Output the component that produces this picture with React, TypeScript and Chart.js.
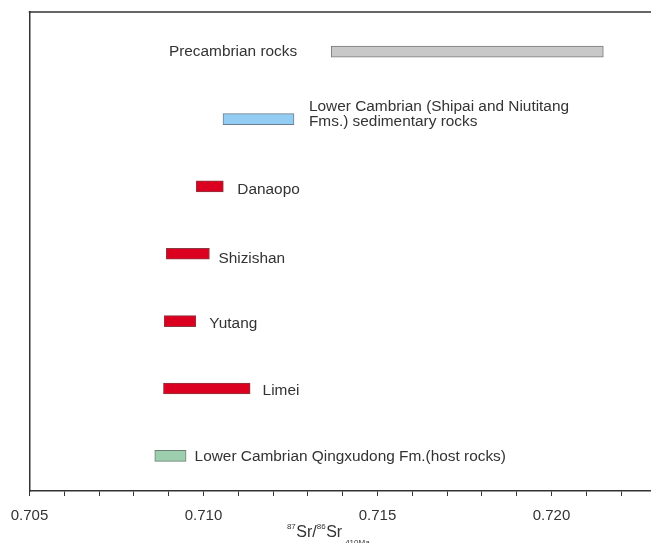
import React, { useEffect, useRef } from 'react';
import { Chart, registerables } from 'chart.js';

Chart.register(...registerables);

// ---------- data ----------
const UNITS = [
  'Precambrian rocks',
  'Lower Cambrian (Shipai and Niutitang\nFms.) sedimentary rocks',
  'Danaopo',
  'Shizishan',
  'Yutang',
  'Limei',
  'Lower Cambrian Qingxudong Fm.(host rocks)',
];
const SR_MIN = [0.71367, 0.71056, 0.70979, 0.70893, 0.70887, 0.70885, 0.7086];
const SR_MAX = [0.72149, 0.7126, 0.71057, 0.71017, 0.70978, 0.71134, 0.7095];
const X_TICKS = [
  0.705, 0.706, 0.707, 0.708, 0.709, 0.71, 0.711, 0.712, 0.713, 0.714, 0.715,
  0.716, 0.717, 0.718, 0.719, 0.72, 0.721, 0.722,
];
const X_TICK_LABELS = ['0.705', '0.710', '0.715', '0.720'];
const X_MIN = 0.705;
const X_MAX = 0.72286;

// ---------- styles ----------
const FONT = '"Liberation Sans", Arial, Helvetica, sans-serif';
const TEXT_COLOR = '#333333';
const AXIS_COLOR = '#333333';
const FILL = ['#c8c8c8', '#94cdf4', '#dc0020', '#dc0020', '#dc0020', '#dc0020', '#9dcfae'];
const BORDER = ['#7a7a7a', '#6a7f8f', '#8a3a40', '#8a3a40', '#8a3a40', '#8a3a40', '#6f7f74'];
const LABEL_SIDE = ['left', 'right', 'right', 'right', 'right', 'right', 'right'];
const LABEL_GAP = [34, 15, 14, 9, 13.5, 12.5, 8.5];
const LABEL_DY = [0, -5, 3, 5, 2.5, 2.3, 0.7];
const LABEL_SIZE = 15.4;
const LINE_H = 15;

const textPlugin = {
  id: 'srText',
  afterDraw(chart: any) {
    const { ctx, chartArea } = chart;
    const meta = chart.getDatasetMeta(0);
    ctx.save();

    // top frame line
    ctx.strokeStyle = AXIS_COLOR;
    ctx.lineWidth = 1.5;
    ctx.beginPath();
    ctx.moveTo(chartArea.left - 0.75, chartArea.top);
    ctx.lineTo(chart.width, chartArea.top);
    ctx.stroke();

    // bar labels
    ctx.fillStyle = TEXT_COLOR;
    ctx.font = `${LABEL_SIZE}px ${FONT}`;
    ctx.textBaseline = 'middle';
    meta.data.forEach((el: any, i: number) => {
      const left = Math.min(el.x, el.base);
      const right = Math.max(el.x, el.base);
      const lines = UNITS[i].split('\n');
      const onLeft = LABEL_SIDE[i] === 'left';
      ctx.textAlign = onLeft ? 'right' : 'left';
      const x = onLeft ? left - LABEL_GAP[i] : right + LABEL_GAP[i];
      lines.forEach((ln, k) => {
        ctx.fillText(ln, x, el.y + LABEL_DY[i] + (k - (lines.length - 1) / 2) * LINE_H);
      });
    });

    // axis title: 87Sr/86Sr 410Ma
    const parts = [
      { t: '87', size: 8, dy: -8.6, gap: 0.5 },
      { t: 'Sr/', size: 16, dy: 0, gap: 0 },
      { t: '86', size: 8, dy: -8.6, gap: 0.5 },
      { t: 'Sr', size: 16, dy: 0, gap: 3 },
      { t: '410Ma', size: 8, dy: 7.4, gap: 0 },
    ];
    ctx.textAlign = 'left';
    ctx.textBaseline = 'alphabetic';
    let total = 0;
    parts.forEach((p) => {
      ctx.font = `${p.size}px ${FONT}`;
      total += ctx.measureText(p.t).width + p.gap;
    });
    let x = (chartArea.left + chartArea.right) / 2 - total / 2 - 12;
    const base = chartArea.bottom + 46.3;
    parts.forEach((p) => {
      ctx.font = `${p.size}px ${FONT}`;
      ctx.fillText(p.t, x, base + p.dy);
      x += ctx.measureText(p.t).width + p.gap;
    });
    ctx.restore();
  },
};

export default function App() {
  const ref = useRef<HTMLCanvasElement>(null);

  useEffect(() => {
    document.body.style.margin = '0';
    Chart.defaults.font.family = FONT;
    const canvas = ref.current!;
    const chart = new Chart(canvas, {
      type: 'bar',
      data: {
        datasets: [
          {
            data: UNITS.map((_, i) => ({ x: [SR_MIN[i], SR_MAX[i]], y: i })) as any,
            backgroundColor: FILL,
            borderColor: BORDER,
            borderWidth: 1,
            borderSkipped: false,
            barThickness: 11,
          },
        ],
      },
      options: {
        indexAxis: 'y',
        responsive: false,
        maintainAspectRatio: false,
        animation: false,
        layout: { padding: { top: 12, left: 0, right: 0, bottom: 0 } },
        plugins: {
          legend: { display: false },
          tooltip: { enabled: false },
          title: { display: false },
        },
        scales: {
          x: {
            type: 'linear',
            min: X_MIN,
            max: X_MAX,
            afterBuildTicks: (s: any) => {
              s.ticks = X_TICKS.map((v) => ({ value: v }));
            },
            afterFit: (s: any) => {
              s.height = 52;
            },
            ticks: {
              autoSkip: false,
              maxRotation: 0,
              minRotation: 0,
              padding: 10.5,
              color: TEXT_COLOR,
              font: { size: 15, family: FONT },
              callback: (v: any) => {
                const lab = X_TICK_LABELS.find((l) => Math.abs(Number(l) - Number(v)) < 1e-9);
                return lab ?? '';
              },
            },
            grid: {
              display: true,
              drawOnChartArea: false,
              drawTicks: true,
              tickLength: 5,
              color: AXIS_COLOR,
              lineWidth: 1,
            },
            border: { display: true, color: AXIS_COLOR, width: 1.5 },
          },
          y: {
            type: 'linear',
            offset: false,
            min: -0.589,
            max: 6.521,
            reverse: true,
            afterFit: (s: any) => {
              s.width = 29.5;
            },
            ticks: { display: false },
            grid: { display: false, offset: false },
            border: { display: true, color: AXIS_COLOR, width: 1.5 },
          },
        },
      } as any,
      plugins: [textPlugin],
    });
    return () => chart.destroy();
  }, []);

  return (
    <div style={{ position: 'absolute', left: 0, top: 0, width: 651, height: 543 }}>
      <canvas ref={ref} width={651} height={543} style={{ display: 'block', width: 651, height: 543 }} />
    </div>
  );
}
